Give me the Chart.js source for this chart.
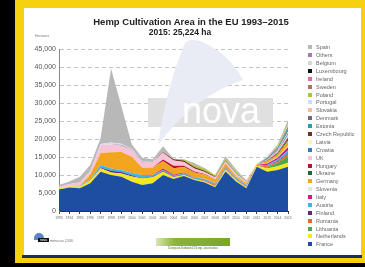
<!DOCTYPE html>
<html>
<head>
<meta charset="utf-8">
<script src="https://cdn.jsdelivr.net/npm/chart.js@4.4.1/dist/chart.umd.min.js"></script>
<style>
  body { margin: 0; width: 365px; height: 267px; overflow: hidden; background: #000; position: relative; font-family: "Liberation Sans", Arial, sans-serif; }
  #frame { position: absolute; left: 15px; top: 0; width: 350px; height: 263px; background: #f6d10f; }
  #panel { position: absolute; left: 24px; top: 8px; width: 337px; height: 247px; background: #fff; }
  #bar { position: absolute; left: 22px; top: 255px; width: 340px; height: 3px; background: #1f2d5a; }
  #chart { position: absolute; left: 24px; top: 8px; }
  .t { position: absolute; white-space: nowrap; text-align: center; }
  #title { left: 24px; width: 334px; top: 16px; font-size: 9.5px; line-height: 11px; font-weight: bold; color: #222; }
  #sub { left: 100px; width: 160px; top: 27px; font-size: 8.5px; line-height: 11px; font-weight: bold; color: #222; }
  #unit { left: 35px; top: 34px; font-size: 3.5px; color: #777; text-align: left; }
  #legend { position: absolute; left: 0; top: 0; }
  .li { position: absolute; left: 308px; height: 6px; font-size: 5.5px; line-height: 6px; color: #666; white-space: nowrap; }
  .li span { position: absolute; left: 0; top: 1px; width: 4px; height: 4px; }
  .li b { position: absolute; left: 8px; top: 0; font-weight: normal; }
  #eiha { position: absolute; left: 156px; top: 238px; width: 74px; height: 8px; background: linear-gradient(90deg, #d8e6b8 0%, #8cb43a 25%, #7aa62c 100%); }
  #eihatxt { left: 154px; width: 78px; top: 246px; font-size: 3.2px; color: #4a6a22; font-family: "Liberation Serif", serif; }
  #nlogo { position: absolute; left: 34px; top: 233px; width: 10px; height: 7px; background: #5a86c2; border-radius: 6px 6px 0 0; }
  #nbox { position: absolute; left: 38px; top: 238px; width: 11px; height: 4px; background: #111; color: #fff; font-size: 3.5px; line-height: 4px; text-align: center; }
  #nmeta { left: 50px; top: 238.5px; font-size: 3px; color: #666; text-align: left; }
</style>
</head>
<body>
<div id="frame"></div>
<div id="panel"></div>
<div id="bar"></div>
<canvas id="chart" width="270" height="215"></canvas>
<div class="t" id="title">Hemp Cultivation Area in the EU 1993–2015</div>
<div class="t" id="sub">2015: 25,224 ha</div>
<div class="t" id="unit">Hectares</div>
<div id="legend"></div>
<div id="nlogo"></div>
<div id="nbox">nova</div>
<div class="t" id="nmeta">metrics.eu | 2016</div>
<div id="eiha"></div>
<div class="t" id="eihatxt">European Industrial Hemp Association</div>
<script>
const years = ['1993','1994','1995','1996','1997','1998','1999','2000','2001','2002','2003','2004','2005','2006','2007','2008','2009','2010','2011','2012','2013','2014','2015'];

// hectares per country, stacked from the bottom (France) to the top (Spain)
const france      = [6000, 6500, 6300, 7700, 10900, 10000, 9500, 8150, 7200, 7700, 10000, 8900, 9700, 8600, 7900, 6600, 11000, 8200, 6300, 12300, 10900, 11400, 12300];
const netherlands = [300, 400, 500, 700, 1000, 700, 900, 1400, 1800, 1700, 900, 500, 400, 300, 300, 300, 500, 400, 300, 300, 900, 1000, 1100];
const lithuania   = [0, 0, 0, 0, 0, 0, 0, 0, 0, 0, 0, 0, 0, 0, 0, 0, 0, 0, 0, 0, 300, 900, 1800];
const romania     = [0, 0, 0, 0, 0, 0, 0, 0, 0, 0, 0, 0, 0, 0, 200, 300, 200, 200, 150, 100, 300, 400, 700];
const finland     = [0, 0, 0, 0, 200, 500, 400, 300, 200, 200, 200, 100, 100, 100, 100, 100, 100, 100, 100, 0, 100, 200, 200];
const austria     = [0, 0, 200, 300, 700, 600, 600, 700, 800, 400, 300, 300, 300, 300, 300, 300, 300, 300, 300, 100, 300, 400, 700];
const italy       = [0, 0, 0, 0, 0, 0, 0, 0, 0, 100, 400, 300, 200, 100, 100, 100, 100, 100, 100, 0, 400, 500, 1000];
const slovenia    = [0, 0, 0, 0, 0, 0, 0, 0, 0, 0, 0, 0, 0, 0, 50, 50, 50, 50, 50, 0, 100, 200, 300];
const germany     = [0, 0, 0, 1400, 3300, 4500, 5000, 4500, 2000, 2000, 2000, 1800, 1500, 1300, 1200, 900, 1000, 400, 500, 200, 500, 700, 1400];
const ukraine     = [0, 0, 0, 0, 0, 0, 0, 0, 0, 0, 0, 0, 0, 0, 0, 0, 0, 0, 0, 0, 100, 300, 600];
const hungary     = [0, 0, 0, 0, 0, 0, 0, 0, 0, 0, 500, 700, 400, 300, 100, 100, 0, 0, 0, 0, 100, 200, 300];
const uk          = [400, 600, 900, 1000, 2200, 2200, 1800, 1800, 1500, 1500, 1800, 1400, 1000, 800, 600, 500, 500, 500, 400, 0, 200, 400, 800];
const croatia     = [0, 0, 0, 0, 0, 0, 0, 0, 0, 0, 0, 0, 0, 0, 0, 0, 0, 0, 0, 0, 100, 200, 500];
const latvia      = [0, 0, 0, 0, 0, 0, 0, 0, 0, 0, 0, 0, 0, 0, 0, 50, 100, 100, 0, 0, 100, 200, 400];
const czech       = [0, 0, 0, 0, 0, 0, 100, 100, 100, 100, 200, 400, 400, 400, 300, 200, 200, 100, 100, 0, 100, 200, 300];
const estonia     = [0, 0, 0, 0, 0, 0, 0, 0, 0, 0, 0, 0, 0, 0, 0, 0, 0, 100, 0, 0, 200, 300, 750];
const denmark     = [0, 0, 0, 0, 0, 0, 0, 0, 0, 0, 0, 0, 0, 0, 0, 0, 100, 100, 0, 0, 100, 200, 300];
const slovakia    = [0, 0, 0, 0, 0, 0, 0, 0, 0, 0, 0, 0, 0, 0, 0, 0, 0, 0, 0, 0, 100, 200, 400];
const portugal    = [0, 0, 0, 0, 300, 500, 400, 300, 200, 100, 100, 0, 0, 0, 0, 0, 0, 0, 0, 0, 0, 0, 100];
const poland      = [0, 0, 0, 0, 0, 0, 0, 0, 0, 0, 0, 0, 300, 500, 600, 400, 300, 300, 200, 0, 200, 300, 500];
const sweden      = [0, 0, 0, 0, 0, 0, 0, 0, 0, 0, 100, 100, 100, 100, 100, 100, 100, 100, 0, 0, 0, 50, 100];
const ireland     = [0, 0, 0, 0, 0, 0, 0, 0, 0, 0, 0, 0, 0, 0, 0, 0, 0, 0, 0, 0, 0, 100, 200];
const luxembourg  = [0, 0, 0, 0, 0, 0, 0, 0, 0, 0, 0, 0, 0, 0, 0, 0, 0, 0, 0, 0, 0, 0, 50];
const belgium     = [0, 0, 0, 0, 0, 0, 0, 0, 0, 0, 0, 0, 0, 0, 0, 0, 0, 0, 0, 0, 0, 50, 100];
const others      = [0, 0, 0, 0, 0, 0, 0, 0, 0, 0, 0, 0, 0, 0, 0, 0, 0, 0, 0, 0, 0, 100, 200];
const spain       = [500, 700, 1600, 1700, 1700, 20600, 10300, 1250, 1000, 600, 1500, 0, 0, 500, 50, 0, 650, 550, 0, 0, 0, 0, 124];

const names = ['France','Netherlands','Lithuania','Romania','Finland','Austria','Italy','Slovenia','Germany','Ukraine','Hungary','UK','Croatia','Latvia','Czech Republic','Estonia','Denmark','Slovakia','Portugal','Poland','Sweden','Ireland','Luxembourg','Belgium','Others','Spain'];
const series = [france, netherlands, lithuania, romania, finland, austria, italy, slovenia, germany, ukraine, hungary, uk, croatia, latvia, czech, estonia, denmark, slovakia, portugal, poland, sweden, ireland, luxembourg, belgium, others, spain];
const colors = ['#1d4fa0','#f5e61e','#4ca84a','#e8672a','#5e2a84','#3fb4e6','#c2208a','#d9ecd9','#f2a51e','#1a6a38','#b5162b','#f7c3d9','#2b80c2','#faf2b8','#73331f','#1aa6a6','#6b6b78','#f2bca5','#cddcf7','#a9c63a','#a67563','#e26aa2','#111111','#cde0cd','#a777b7','#b8b8b8'];

Chart.defaults.font.family = '"Liberation Sans", Arial, sans-serif';

// pale "nova" watermark drawn over the grid, under the areas
const watermark = {
  id: 'watermark',
  beforeDatasetsDraw(chart) {
    const ctx = chart.ctx;
    ctx.save();
    ctx.fillStyle = '#e0e0e0';
    ctx.fillRect(124, 90, 125, 29);
    ctx.fillStyle = '#eaecf5';
    ctx.beginPath();
    ctx.moveTo(134, 137);
    ctx.quadraticCurveTo(142, 80, 161, 35);
    ctx.quadraticCurveTo(166, 30, 176, 33);
    ctx.quadraticCurveTo(205, 45, 219, 72);
    ctx.quadraticCurveTo(170, 88, 134, 137);
    ctx.fill();
    ctx.fillStyle = '#fff';
    ctx.font = '36px "Liberation Sans", Arial, sans-serif';
    ctx.textBaseline = 'alphabetic';
    ctx.fillText('nova', 158, 115);
    ctx.restore();
  }
};

const chart = new Chart(document.getElementById('chart'), {
  type: 'line',
  data: {
    labels: years,
    datasets: names.map((name, i) => ({
      label: name,
      data: series[i],
      backgroundColor: colors[i],
      borderWidth: 0,
      pointRadius: 0,
      tension: 0,
      fill: i === 0 ? 'origin' : '-1'
    }))
  },
  options: {
    responsive: false,
    animation: false,
    layout: { padding: { top: 41, right: 6, left: 0, bottom: 0 } },
    plugins: {
      legend: { display: false },
      tooltip: { enabled: false }
    },
    scales: {
      x: {
        afterFit: s => { s.height = 12; },
        grid: { drawOnChartArea: false, tickLength: 3, color: '#444' },
        border: { color: '#333' },
        ticks: { autoSkip: false, maxRotation: 0, font: { size: 3.3 }, color: '#666', padding: 2 }
      },
      y: {
        stacked: true,
        min: 0,
        max: 45000,
        afterFit: s => { s.width = 35; },
        grid: { drawTicks: false, color: c => c.tick.value === 0 ? 'transparent' : '#c4c4c4' },
        border: { color: '#888', dash: [4, 3] },
        ticks: { stepSize: 5000, padding: 3, font: { size: 7 }, color: '#555', callback: v => v.toLocaleString('en-US') }
      }
    }
  },
  plugins: [watermark]
});

// legend built from the chart's own legend items, Spain on top
const items = Chart.defaults.plugins.legend.labels.generateLabels(chart).reverse();
const legend = document.getElementById('legend');
items.forEach((item, i) => {
  const row = document.createElement('div');
  row.className = 'li';
  row.style.top = (44.3 + i * 7.88) + 'px';
  const box = document.createElement('span');
  box.style.background = item.fillStyle;
  const txt = document.createElement('b');
  txt.textContent = item.text;
  row.appendChild(box);
  row.appendChild(txt);
  legend.appendChild(row);
});
</script>
</body>
</html>
